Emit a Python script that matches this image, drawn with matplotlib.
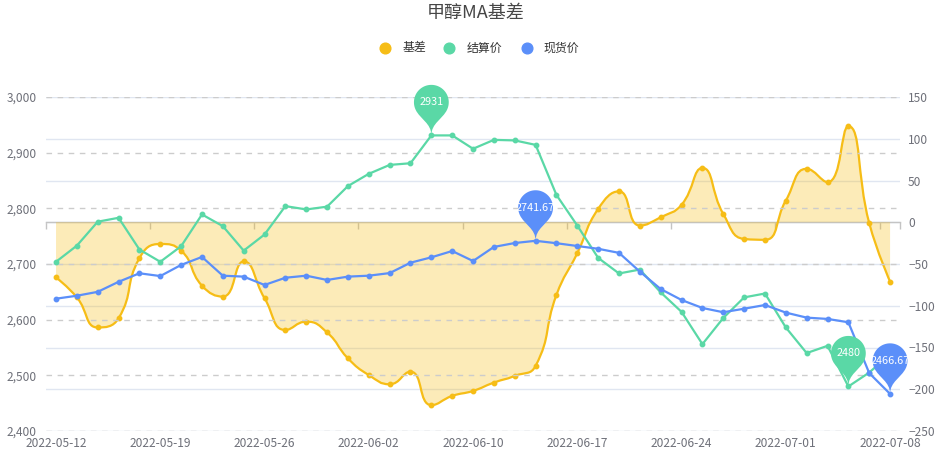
import numpy as np
import matplotlib
matplotlib.use('Agg')
import matplotlib.pyplot as plt
from matplotlib.path import Path
from matplotlib.patches import PathPatch
from matplotlib.lines import Line2D
import matplotlib.transforms as mtransforms
from matplotlib.ticker import FuncFormatter, FixedLocator

plt.rcParams['font.family'] = ['Noto Sans CJK SC', 'DejaVu Sans']

# ---------------- data ----------------
dates = ['2022-05-12', '2022-05-13', '2022-05-16', '2022-05-17', '2022-05-18',
         '2022-05-19', '2022-05-20', '2022-05-23', '2022-05-24', '2022-05-25',
         '2022-05-26', '2022-05-27', '2022-05-30', '2022-05-31', '2022-06-01',
         '2022-06-02', '2022-06-06', '2022-06-07', '2022-06-08', '2022-06-09',
         '2022-06-10', '2022-06-13', '2022-06-14', '2022-06-15', '2022-06-16',
         '2022-06-17', '2022-06-20', '2022-06-21', '2022-06-22', '2022-06-23',
         '2022-06-24', '2022-06-27', '2022-06-28', '2022-06-29', '2022-06-30',
         '2022-07-01', '2022-07-04', '2022-07-05', '2022-07-06', '2022-07-07',
         '2022-07-08']

basis = [-66, -90, -126, -115, -43, -26, -34, -76, -89, -47,
         -91, -129, -119, -132, -163, -183, -194, -179, -219, -208,
         -202, -192, -184, -172, -87, -37, 16, 37, -4, 6,
         21, 65, 10, -20, -21, 26, 64, 48, 115, -1,
         -71]

settle = [2704, 2733, 2776, 2783, 2726, 2704, 2732, 2789, 2768, 2724,
          2753, 2804, 2798, 2803, 2840, 2862, 2878, 2881, 2931, 2931,
          2907, 2923, 2922, 2914, 2824, 2769, 2711, 2683, 2690, 2649,
          2614, 2556, 2603, 2640, 2647, 2586, 2540, 2553, 2480, 2505,
          2538]

spot = [2637.67, 2643, 2650, 2668, 2683.33, 2678.33, 2698.33, 2712.67, 2679, 2677.33,
        2662.33, 2675.33, 2679, 2671.33, 2677.33, 2679, 2683.67, 2702.33, 2712, 2723.33,
        2705.33, 2730.67, 2737.67, 2741.67, 2737.33, 2732.33, 2727.33, 2720, 2686.33, 2655,
        2635.33, 2621, 2613.33, 2619.67, 2626.33, 2612.67, 2603.67, 2601.33, 2595.33, 2504,
        2466.67]

title = '甲醇MA基差'
series_names = ['基差', '结算价', '现货价']
colors = ['#F6BD16', '#5AD8A6', '#5B8FF9']
left_ticks = [2400, 2500, 2600, 2700, 2800, 2900, 3000]
right_ticks = [-250, -200, -150, -100, -50, 0, 50, 100, 150]
label_step = 5

# ---------------- layout ----------------
W, H = 939, 453
L, R, B, T = 45.6, 900.5, 431, 97
fig = plt.figure(figsize=(W / 100, H / 100), dpi=100)
ax = fig.add_axes([L / W, (H - B) / H, (R - L) / W, (B - T) / H])
ax2 = ax.twinx()
ax.set_zorder(ax2.get_zorder() + 1)
ax.patch.set_visible(False)

n = len(dates)
xs = np.arange(n)
sx = (R - L) / n                      # px per category
sy = (B - T) / (right_ticks[-1] - right_ticks[0])  # px per unit (right axis)


def echarts_smooth(xv, yv, sx, sy, smooth=0.5):
    pts = [(x * sx, y * sy) for x, y in zip(xv, yv)]
    verts = [pts[0]]
    codes = [Path.MOVETO]
    cp0 = pts[0]
    m = len(pts)
    for k in range(1, m):
        x, y = pts[k]
        px, py = pts[k - 1]
        if k + 1 < m:
            nx, ny = pts[k + 1]
            vx, vy = nx - px, ny - py
            lp = np.hypot(x - px, y - py)
            ln = np.hypot(nx - x, ny - y)
            ratio = ln / (ln + lp)
            ncx = x + vx * smooth * ratio
            ncy = y + vy * smooth * ratio
            ncx = max(min(ncx, max(nx, x)), min(nx, x))
            ncy = max(min(ncy, max(ny, y)), min(ny, y))
            vx, vy = ncx - x, ncy - y
            c1x = x - vx * lp / ln
            c1y = y - vy * lp / ln
            c1x = max(min(c1x, max(px, x)), min(px, x))
            c1y = max(min(c1y, max(py, y)), min(py, y))
            vx, vy = x - c1x, y - c1y
            ncx = x + vx * ln / lp
            ncy = y + vy * ln / lp
        else:
            c1x, c1y = x, y
            ncx, ncy = x, y
        verts += [cp0, (c1x, c1y), (x, y)]
        codes += [Path.CURVE4] * 3
        cp0 = (ncx, ncy)
    verts = [(vx_ / sx, vy_ / sy) for vx_, vy_ in verts]
    return verts, codes


# ---------------- basis (right axis, smooth area) ----------------
cv, cc = echarts_smooth(xs, basis, sx, sy)
fill_verts = cv + [(xs[-1], 0), (xs[0], 0), (xs[0], 0)]
fill_codes = cc + [Path.LINETO, Path.LINETO, Path.CLOSEPOLY]
ax2.add_patch(PathPatch(Path(fill_verts, fill_codes), facecolor=colors[0],
                        alpha=0.3, edgecolor='none', zorder=3))
ax2.add_patch(PathPatch(Path(cv, cc), facecolor='none', edgecolor=colors[0],
                        lw=1.6, zorder=4, capstyle='round', joinstyle='round'))
ax2.plot(xs, basis, 'o', color=colors[0], ms=3.2, zorder=5)

# ---------------- settle / spot (left axis) ----------------
ax.plot(xs, settle, '-o', color=colors[1], lw=1.6, ms=3.2, zorder=3)
ax.plot(xs, spot, '-o', color=colors[2], lw=1.6, ms=3.2, zorder=3)

# ---------------- pins ----------------
def pin_path(S=58):
    w = S / 5 * 3
    h = max(w, S)
    r = w / 2
    dy = r * r / (h - r)
    cy = -h + r + dy          # canvas (y-down) centre
    a = np.arcsin(dy / r)
    dx = np.cos(a) * r
    tx, ty = np.sin(a), np.cos(a)
    cl, cl2 = r * 0.6, r * 0.7
    th = np.linspace(np.pi - a, 2 * np.pi + a, 60)
    arc = [(r * np.cos(t), cy + r * np.sin(t)) for t in th]
    verts = list(arc)
    codes = [Path.MOVETO] + [Path.LINETO] * (len(arc) - 1)
    verts += [(dx - tx * cl, cy + dy + ty * cl), (0, -cl2), (0, 0)]
    codes += [Path.CURVE4] * 3
    verts += [(0, -cl2), (-dx + tx * cl, cy + dy + ty * cl), (-dx, cy + dy)]
    codes += [Path.CURVE4] * 3
    verts += [(-dx, cy + dy)]
    codes += [Path.CLOSEPOLY]
    verts = [(vx_, -vy_) for vx_, vy_ in verts]   # to y-up
    return Path(verts, codes), -cy


pin, head_off = pin_path(58)


def add_pin(i, v, color):
    tr = mtransforms.Affine2D().scale(fig.dpi / 100) + \
        mtransforms.ScaledTranslation(i, v, ax.transData)
    ax.add_patch(PathPatch(pin, transform=tr, facecolor=color,
                           edgecolor='none', zorder=10, clip_on=False))
    ax.annotate(f'{v:g}', xy=(i, v), xytext=(0, head_off * 0.72),
                textcoords='offset points', ha='center', va='center',
                color='white', fontsize=7.8, zorder=11,
                family=['Noto Sans CJK SC', 'DejaVu Sans'])


for series, col in [(settle, colors[1]), (spot, colors[2])]:
    arr = np.asarray(series)
    add_pin(int(np.argmax(arr)), series[int(np.argmax(arr))], col)
    add_pin(int(np.argmin(arr)), series[int(np.argmin(arr))], col)

# ---------------- axes styling ----------------
axis_col = '#C4C4C4'
ax.set_xlim(-0.5, n - 0.5)
ax.set_ylim(left_ticks[0], left_ticks[-1])
ax2.set_ylim(right_ticks[0], right_ticks[-1])

major = list(range(0, n, label_step))
ax.xaxis.set_major_locator(FixedLocator(major))
ax.set_xticklabels([dates[i] for i in major])
minor = list(np.arange(-0.5, n - 0.5, label_step)) + [n - 0.5]
ax.xaxis.set_minor_locator(FixedLocator(minor))

ax.set_yticks(left_ticks)
ax.yaxis.set_major_formatter(FuncFormatter(lambda v, p: f'{int(v):,}'))
ax2.set_yticks(right_ticks)

for s in ax.spines.values():
    s.set_visible(False)
for k in ['left', 'right', 'top']:
    ax2.spines[k].set_visible(False)
ax2.spines['bottom'].set_position(('data', 0))
ax2.spines['bottom'].set_color(axis_col)
ax2.spines['bottom'].set_linewidth(1)
ax2.spines['bottom'].set_zorder(2.5)

ax.tick_params(axis='x', which='both', length=0, pad=4,
               labelsize=8.6, labelcolor='#6E7079')
ax.tick_params(axis='y', length=0, pad=6.5, labelsize=8.6, labelcolor='#6E7079')
ax2.xaxis.set_visible(True)
ax2.tick_params(axis='x', which='major', length=0, labelbottom=False)
ax2.tick_params(axis='x', which='minor', length=5, width=1, color=axis_col,
                direction='out', labelbottom=False)
ax2.tick_params(axis='y', length=0, pad=5.5, labelsize=8.6, labelcolor='#6E7079')

ax2.set_axisbelow(True)
ax2.grid(axis='y', color='#E0E6F1', lw=1)
ax2.grid(axis='x', visible=False)
ax.set_axisbelow(True)
ax.grid(axis='y', color='#CCCCCC', lw=1, ls=(0, (4, 4)))
ax.grid(axis='x', visible=False)

# ---------------- title & legend ----------------
fig.text(476 / W, 1 - 13 / H, title, ha='center', va='center',
         fontsize=13, color='#464646')
legend_x = [385.3, 449.3, 526.7]
for name, col, lx in zip(series_names, colors, legend_x):
    fig.add_artist(Line2D([lx / W], [1 - 48 / H], marker='o', ms=7.7,
                          color=col, lw=0, transform=fig.transFigure))
    fig.text((lx + 17) / W, 1 - 48 / H, name, ha='left', va='center',
             fontsize=8.6, color='#333333')

fig.savefig('out.png', dpi=100)
